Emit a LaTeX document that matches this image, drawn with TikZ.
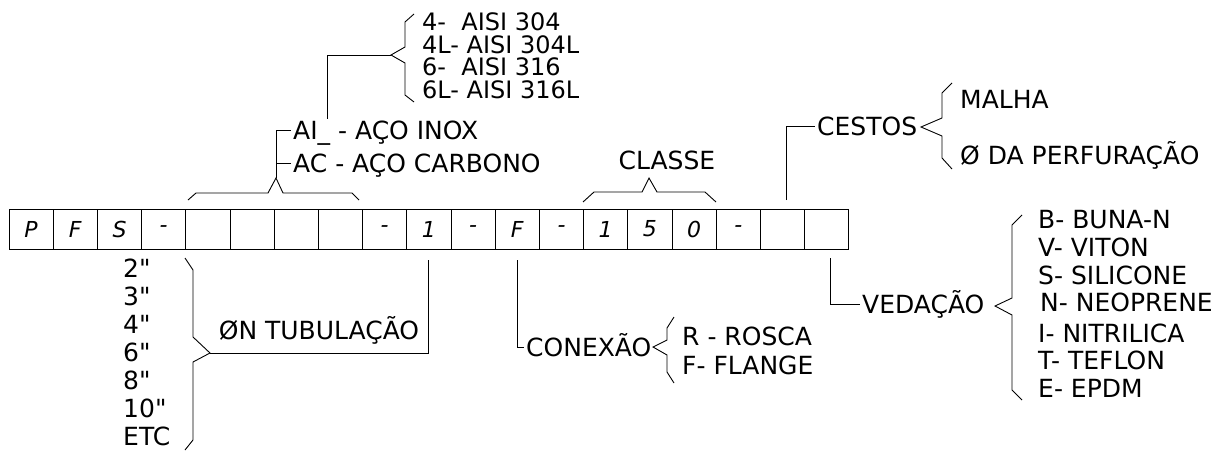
\documentclass[tikz,border=0pt]{standalone}
\usepackage{fontspec}
\setmainfont{DejaVu Sans}[Ligatures=TeXOff]
\usepackage{tikz}
\usetikzlibrary{positioning, calc}

\tikzset{
cell/.style={
  draw,
  line width=1pt,
  minimum width=44.2pt,
  minimum height=40pt,
  inner sep=0pt,
  outer sep=0pt,
  font=\fontsize{22}{24}\selectfont\itshape
},
lbl/.style={
  anchor=west,
  inner sep=2pt,
  text height=18pt,
  text depth=0pt,
  font=\fontsize{25}{27}\selectfont
},
smalllbl/.style={
  lbl,
  inner sep=1pt,
  text height=17pt,
  font=\fontsize{24}{26}\selectfont
},
clbl/.style={
  lbl,
  anchor=center
},
link/.style={
  draw,
  line width=0.9pt
},
bracket/.style={
  link,
  line join=miter
}
}

\begin{document}
\begin{tikzpicture}[x=1pt, y=-1pt]
  \useasboundingbox (0,0) rectangle (1217,453);

  % Code cells
  \node[cell] (c1) at (31.1,229) {P};
  \node[cell, right=0pt of c1] (c2) {F};
  \node[cell, right=0pt of c2] (c3) {S};
  \node[cell, right=0pt of c3] (c4) {-};
  \node[cell, right=0pt of c4] (c5) {};
  \node[cell, right=0pt of c5] (c6) {};
  \node[cell, right=0pt of c6] (c7) {};
  \node[cell, right=0pt of c7] (c8) {};
  \node[cell, right=0pt of c8] (c9) {-};
  \node[cell, right=0pt of c9] (c10) {1};
  \node[cell, right=0pt of c10] (c11) {-};
  \node[cell, right=0pt of c11] (c12) {F};
  \node[cell, right=0pt of c12] (c13) {-};
  \node[cell, right=0pt of c13] (c14) {1};
  \node[cell, right=0pt of c14] (c15) {5};
  \node[cell, right=0pt of c15] (c16) {0};
  \node[cell, right=0pt of c16] (c17) {-};
  \node[cell, right=0pt of c17] (c18) {};
  \node[cell, right=0pt of c18] (c19) {};

  % Material
  \coordinate (tipM) at (276,178);
  \coordinate (tipA) at (391,55);
  \draw[bracket] (188,200) -- (196,193) -- (268,193) -- (tipM) -- (283,193) -- (352,193) -- (359,200);
  \node[lbl] (ai) at (291,130) {AI\_ - AÇO INOX};
  \node[lbl] (ac) at (291,163) {AC - AÇO CARBONO};
  \draw[link] (ai.west) -| (tipM);
  \draw[link] (ac.west) -- (ac.west -| tipM);
  \draw[link] ([xshift=36pt]ai.north west) |- (tipA);
  \draw[bracket] (414,14) -- (405,22) -- (405,47) -- (tipA) -- (405,63) -- (405,95) -- (414,102);
  \node[smalllbl] (a4) at (421,22) {4-\ \ AISI 304};
  \node[smalllbl] (a4l) at (421,44.5) {4L- AISI 304L};
  \node[smalllbl] (a6) at (421,67) {6-\ \ AISI 316};
  \node[smalllbl] (a6l) at (421,89.5) {6L- AISI 316L};

  % Diameter
  \coordinate (tipT) at (210,353);
  \draw[bracket] (185,258) -- (193,270) -- (193,337) -- (tipT) -- (193,362) -- (193,440) -- (185,450);
  \draw[link] (c10.south) ++(0,11) |- (tipT);
  \node[clbl] (tubo) at (319,330) {ØN TUBULAÇÃO};
  \node[lbl] (d2) at (121,268) {2"};
  \node[lbl] (d3) at (121,296) {3"};
  \node[lbl] (d4) at (121,324) {4"};
  \node[lbl] (d6) at (121,352) {6"};
  \node[lbl] (d8) at (121,380) {8"};
  \node[lbl] (d10) at (121,408) {10"};
  \node[lbl] (detc) at (121,436) {ETC};

  % Connection
  \node[lbl] (conexao) at (524,347) {CONEXÃO};
  \draw[link] (c12.south) ++(0,11) |- (conexao.west);
  \draw[bracket] (674,317) -- (667,328) -- (667,340) -- (653,347) -- (667,355) -- (667,372) -- (674,383);
  \node[lbl] (rosca) at (680,336) {R - ROSCA};
  \node[lbl] (flange) at (680,365) {F- FLANGE};

  % Class
  \draw[bracket] (583,202) -- (594,192) -- (642,192) -- (649,178) -- (657,192) -- (705,192) -- (716,202);
  \node[clbl] (classe) at (667,160) {CLASSE};

  % Baskets
  \node[lbl] (cestos) at (815,126) {CESTOS};
  \draw[link] (c18.north) ++(4,-9) |- (cestos.west);
  \draw[bracket] (952,83) -- (942,93) -- (942,118) -- (921,127) -- (942,136) -- (942,158) -- (952,169);
  \node[lbl] (malha) at (958,99) {MALHA};
  \node[lbl] (furo) at (958,155) {Ø DA PERFURAÇÃO};

  % Sealing
  \node[lbl] (vedacao) at (860,304) {VEDAÇÃO};
  \draw[link] (c19.south) ++(4,9) |- (vedacao.west);
  \draw[bracket] (1022,215) -- (1012,225) -- (1012,298) -- (995,306) -- (1012,315) -- (1012,390) -- (1022,400);
  \node[lbl] (vb) at (1036,219) {B- BUNA-N};
  \node[lbl] (vv) at (1036,247) {V- VITON};
  \node[lbl] (vs) at (1036,275) {S- SILICONE};
  \node[lbl] (vn) at (1038,302) {N- NEOPRENE};
  \node[lbl] (vi) at (1036,333) {I- NITRILICA};
  \node[lbl] (vt) at (1036,360) {T- TEFLON};
  \node[lbl] (ve) at (1036,388) {E- EPDM};
\end{tikzpicture}
\end{document}
